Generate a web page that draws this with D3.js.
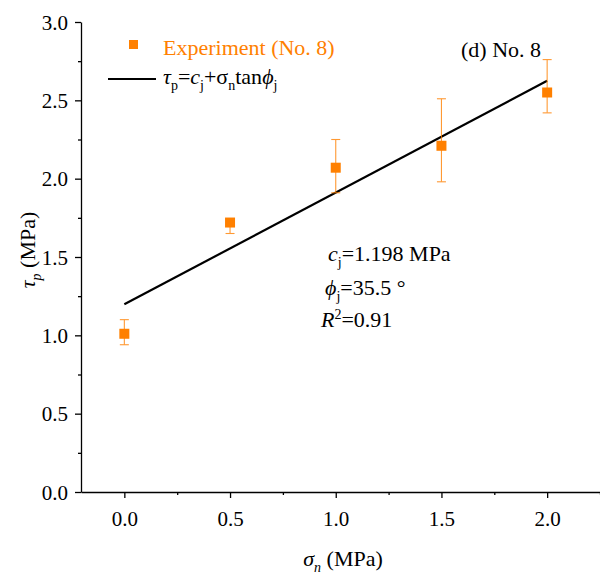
<!DOCTYPE html>
<html lang="en">
<head>
<meta charset="UTF-8">
<title>No. 8</title>
<script src="https://cdn.jsdelivr.net/npm/d3@7"></script>
<style>
    body { margin: 0; background: #fff; }
</style>
</head>
<body>
<div id="chart"></div>
<script>
// data
var sigma = [0, 0.5, 1.0, 1.5, 2.0];
var tau = [1.01, 1.72, 2.07, 2.21, 2.55];
var errLow = [0.94, 1.65, 1.91, 1.98, 2.42];
var errHigh = [1.10, 1.74, 2.25, 2.51, 2.76];
var cj = 1.198;
var phiDeg = 35.5;
var xTicks = [0, 0.5, 1.0, 1.5, 2.0];
var yTicks = [0, 0.5, 1.0, 1.5, 2.0, 2.5, 3.0];
var xMinor = [0.25, 0.75, 1.25, 1.75, 2.25];
var yMinor = [0.25, 0.75, 1.25, 1.75, 2.25, 2.75];

var W = 600, H = 578;
var orange = "#ff8000";
var serif = "'Liberation Serif', 'Times New Roman', serif";
var fs = 22, subFs = 14;

var svg = d3.select("#chart").append("svg")
    .attr("width", W).attr("height", H)
    .attr("font-family", serif);

var x = d3.scaleLinear().domain([-0.205, 2.25]).range([81, 600]);
var y = d3.scaleLinear().domain([0, 3]).range([492, 22]);

var gx = svg.append("g").attr("transform", "translate(0,492)");
gx.call(d3.axisBottom(x).tickValues(xTicks).tickFormat(d3.format(".1f")).tickSize(6).tickSizeOuter(0));
gx.append("g").call(d3.axisBottom(x).tickValues(xMinor).tickFormat("").tickSize(3).tickSizeOuter(0))
    .select(".domain").remove();

var gy = svg.append("g").attr("transform", "translate(81,0)");
gy.call(d3.axisLeft(y).tickValues(yTicks).tickFormat(d3.format(".1f")).tickSize(6).tickSizeOuter(0));
gy.append("g").call(d3.axisLeft(y).tickValues(yMinor).tickFormat("").tickSize(3).tickSizeOuter(0))
    .select(".domain").remove();

svg.selectAll("g").attr("font-family", serif);
svg.selectAll(".domain, .tick line").attr("stroke", "#000").attr("stroke-width", 1.3);
svg.selectAll(".tick text").attr("fill", "#000").attr("font-size", 21);
gx.selectAll(".tick text").attr("y", 34).attr("dy", 0);
gy.selectAll(".tick text").attr("x", -13).attr("dy", "0.34em");

// fit line
var fit = function(s){ return cj + s * Math.tan(phiDeg * Math.PI / 180); };
svg.append("line")
    .attr("x1", x(0)).attr("y1", y(fit(0)))
    .attr("x2", x(2)).attr("y2", y(fit(2)))
    .attr("stroke", "#000").attr("stroke-width", 2.2);

// error bars
var eb = svg.append("g").attr("stroke", orange).attr("stroke-width", 1.1).attr("opacity", 0.8);
sigma.forEach(function(s, i){
    eb.append("line").attr("x1", x(s)).attr("x2", x(s)).attr("y1", y(errLow[i])).attr("y2", y(errHigh[i]));
    eb.append("line").attr("x1", x(s) - 4.5).attr("x2", x(s) + 4.5).attr("y1", y(errLow[i])).attr("y2", y(errLow[i]));
    eb.append("line").attr("x1", x(s) - 4.5).attr("x2", x(s) + 4.5).attr("y1", y(errHigh[i])).attr("y2", y(errHigh[i]));
});

// points
svg.selectAll(".pt").data(sigma).enter().append("rect")
    .attr("class", "pt")
    .attr("x", function(d){ return x(d) - 5; })
    .attr("y", function(d, i){ return y(tau[i]) - 5; })
    .attr("width", 10).attr("height", 10)
    .attr("fill", orange);

function sub(t, txt, italic) {
    t.append("tspan").attr("dy", 6).attr("font-size", subFs).attr("font-style", italic ? "italic" : null).text(txt);
}

// legend
svg.append("rect").attr("x", 129).attr("y", 40).attr("width", 9).attr("height", 9).attr("fill", orange);
svg.append("text").attr("x", 163).attr("y", 55).attr("fill", orange)
    .attr("font-size", fs).text("Experiment (No. 8)");
svg.append("line").attr("x1", 108).attr("x2", 156).attr("y1", 79).attr("y2", 79)
    .attr("stroke", "#000").attr("stroke-width", 2.2);

var leg = svg.append("text").attr("x", 163).attr("y", 84).attr("font-size", fs).attr("fill", "#000");
leg.append("tspan").attr("font-style", "italic").text("τ");
sub(leg, "p");
leg.append("tspan").attr("dy", -6).text("=");
leg.append("tspan").attr("font-style", "italic").text("c");
sub(leg, "j");
leg.append("tspan").attr("dy", -6).text("+σ");
sub(leg, "n");
leg.append("tspan").attr("dy", -6).text("tan");
leg.append("tspan").attr("font-style", "italic").text("ϕ");
sub(leg, "j");

svg.append("text").attr("x", 461).attr("y", 57).attr("font-size", fs).attr("fill", "#000").text("(d) No. 8");

// annotation
var a1 = svg.append("text").attr("x", 328).attr("y", 261).attr("font-size", fs);
a1.append("tspan").attr("font-style", "italic").text("c");
sub(a1, "j");
a1.append("tspan").attr("dy", -6).text("=" + cj + " MPa");

var a2 = svg.append("text").attr("x", 325).attr("y", 295).attr("font-size", fs);
a2.append("tspan").attr("font-style", "italic").text("ϕ");
sub(a2, "j");
a2.append("tspan").attr("dy", -6).text("=" + phiDeg + " °");

var a3 = svg.append("text").attr("x", 321).attr("y", 327).attr("font-size", fs);
a3.append("tspan").attr("font-style", "italic").text("R");
a3.append("tspan").attr("dy", -8).attr("font-size", subFs).text("2");
a3.append("tspan").attr("dy", 8).text("=0.91");

// axis titles
var xt = svg.append("text").attr("x", 343).attr("y", 566).attr("text-anchor", "middle").attr("font-size", fs);
xt.append("tspan").attr("font-style", "italic").text("σ");
sub(xt, "n", true);
xt.append("tspan").attr("dy", -6).text(" (MPa)");

var yt = svg.append("text").attr("transform", "translate(35,250) rotate(-90)")
    .attr("text-anchor", "middle").attr("font-size", fs);
yt.append("tspan").attr("font-style", "italic").text("τ");
sub(yt, "p", true);
yt.append("tspan").attr("dy", -6).text(" (MPa)");
</script>
</body>
</html>
